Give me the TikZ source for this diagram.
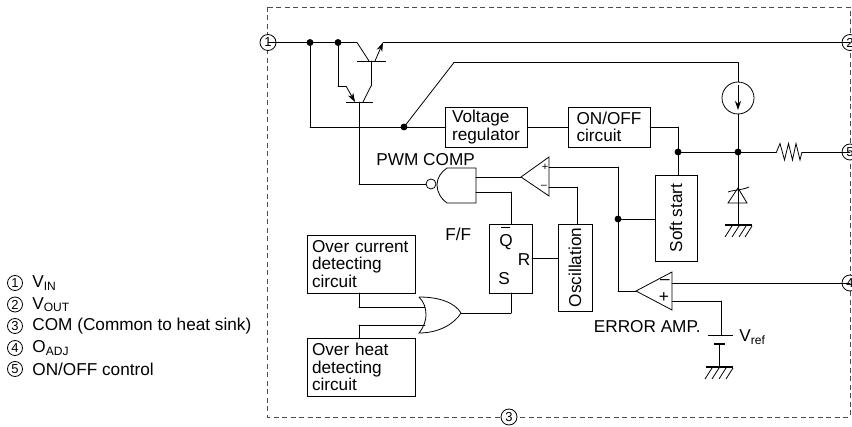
\documentclass[tikz,border=0pt]{standalone}
\usepackage{fontspec}
\setmainfont{Liberation Sans}
\usepackage{tkz-euclide}
\usetikzlibrary{calc}
\usetikzlibrary{positioning}
\usetikzlibrary{arrows.meta}

\begin{document}
\begin{tikzpicture}[%
  x=1pt, y=-1pt,
  line width=0.8pt,
  >={Stealth[length=9pt,width=6pt]},
  block/.style={draw, align=left, inner sep=0pt, font=\fontsize{17.2}{17.5}\selectfont},
  lbl/.style={inner sep=0pt, font=\fontsize{17.2}{17.5}\selectfont},
  pin/.style={draw, circle, fill=white, inner sep=0pt, minimum size=16pt, font=\fontsize{13}{13}\selectfont},
  sign/.style={inner sep=0pt, font=\fontsize{11}{11}\selectfont},
]

  \useasboundingbox (0,0) rectangle (852,427);

  % package outline
  \draw[dashed, dash pattern=on 5pt off 3.5pt, black!70] (267,7) rectangle (850,417);

  \node[pin] (p1) at (268,42.5) {1};
  \node[pin] (p2) at (850,42.5) {2};
  \node[pin] (p3) at (509,417) {3};
  \node[pin] (p4) at (850,283) {4};
  \node[pin] (p5) at (850,152) {5};

  \node[block, minimum width=82pt, minimum height=40pt] (vreg) at (486,127) {Voltage\\regulator};
  \node[block, minimum width=82pt, minimum height=40pt] (onoff) at (609,127) {ON/OFF\\circuit};
  \node[block, minimum width=42pt, minimum height=86pt] (soft) at (676,218) {};
  \node[lbl, rotate=90] (softtxt) at (soft.center) {Soft start};
  \node[block, minimum width=34pt, minimum height=87pt] (osc) at (575,267.5) {};
  \node[lbl, rotate=90] (osctxt) at (osc.center) {Oscillation};
  \node[block, minimum width=43pt, minimum height=69pt] (ff) at (510.5,258.5) {};
  \node[block, minimum width=108pt, minimum height=58pt, text width=98pt] (ocd) at (361,264) {Over current\\detecting\\circuit};
  \node[block, minimum width=108pt, minimum height=58pt, text width=98pt] (ohd) at (361,367) {Over heat\\detecting\\circuit};

  \node[lbl] (qbar) at (506,242) {Q};
  \node[lbl] (rr) at (524,260) {R};
  \node[lbl] (ss) at (504,279) {S};
  \node[lbl, anchor=west] (pwm) at (376,160) {PWM COMP};
  \node[lbl, anchor=west] (flip) at (445,234) {F/F};
  \node[lbl, anchor=east] (eamp) at (701,327) {ERROR AMP.};
  \node[lbl, anchor=west] (vref) at (739,337) {V\textsubscript{ref}};
  \draw (501,227) -- (510,227);

  \tkzDefPoint(310,42.5){j1}
  \tkzDefPoint(338,42.5){j2}
  \tkzDefPoint(357,42.5){c1}
  \tkzDefPoint(369,61){b1}
  \tkzDefPoint(375,61){e1}
  \tkzDefPoint(383,42.5){e1t}
  \tkzDefPoint(371,61){b1b}
  \tkzDefPoint(371,86){b1c}
  \tkzDefPoint(363,102){b1d}
  \tkzDefPoint(338,86){e2a}
  \tkzDefPoint(346,86){e2b}
  \tkzDefPoint(355,102){e2c}
  \tkzDefPoint(359,102){b2}
  \tkzDefPoint(359,184){b2b}
  \tkzDefPoint(426,184){bub}
  \tkzDefPoint(310,127){j3}
  \tkzDefPoint(404,127){j4}
  \tkzDefPoint(454,62.5){d1}
  \tkzDefPoint(738,62.5){d2}
  \tkzDefPoint(738,82){cs1}
  \tkzDefPoint(738,114){cs2}
  \tkzDefPoint(738,152){j5}
  \tkzDefPoint(678,127){s1}
  \tkzDefPoint(678,152){j6}
  \tkzDefPoint(678,175){s2}
  \tkzDefPoint(776.5,152){r1}
  \tkzDefPoint(802,152){r2}
  \tkzDefPoint(738,225){g1}
  \tkzDefPoint(618,167){t1}
  \tkzDefPoint(549,167){t2}
  \tkzDefPoint(618,219){j7}
  \tkzDefPoint(655,219){s3}
  \tkzDefPoint(618,291){t3}
  \tkzDefPoint(636,291){t4}
  \tkzDefPoint(549,187){m1}
  \tkzDefPoint(577,187){m2}
  \tkzDefPoint(577,224){m3}
  \tkzDefPoint(476,177){n1}
  \tkzDefPoint(521,177){n2}
  \tkzDefPoint(476,192){n3}
  \tkzDefPoint(511,192){n4}
  \tkzDefPoint(511,224){n5}
  \tkzDefPoint(532,258){q1}
  \tkzDefPoint(558,258){q2}
  \tkzDefPoint(511,293){u1}
  \tkzDefPoint(511,313){u2}
  \tkzDefPoint(461,313){u3}
  \tkzDefPoint(359,293){o1}
  \tkzDefPoint(359,307){o2}
  \tkzDefPoint(425,307){o3}
  \tkzDefPoint(359,338){o4}
  \tkzDefPoint(359,325){o5}
  \tkzDefPoint(425,325){o6}
  \tkzDefPoint(672,283){a1}
  \tkzDefPoint(672,301){a2}
  \tkzDefPoint(721,301){a3}
  \tkzDefPoint(721,335){a4}
  \tkzDefPoint(719,344){a5}
  \tkzDefPoint(719,367){g2}

  % wires
  \tkzDrawSegments[line width=0.8pt](p1,c1 c1,b1 e1t,p2 b1b,b1c b1c,b1d j2,e2a e2a,e2b b2,b2b b2b,bub)
  \tkzDrawSegments[line width=0.8pt](j1,j3 j3,vreg.west j4,d1 d1,d2 d2,cs1 cs2,g1 vreg.east,onoff.west onoff.east,s1 s1,s2)
  \tkzDrawSegments[line width=0.8pt](j6,r1 r2,p5 t2,t1 t1,t3 t3,t4 j7,s3 m1,m2 m2,m3 n1,n2 n3,n4 n4,n5)
  \tkzDrawSegments[line width=0.8pt](q1,q2 u1,u2 u2,u3 o1,o2 o2,o3 o4,o5 o5,o6 a1,p4 a2,a3 a3,a4 a5,g2)
  \path[->] (e1) edge (e1t);
  \path[->] (e2b) edge (e2c);

  % transistors
  \draw (357,61) -- (386,61);
  \draw (346,102) -- (373,102);

  % current source
  \draw (738,98) circle (16);
  \path[->, line width=1pt] (738,85) edge (738,110);

  % resistor
  \draw (r1) -- (780,143.5) -- (784.5,160) -- (788.5,143.5) -- (792.5,160) -- (796,143.5) -- (800,160) -- (r2);

  % zener
  \draw (738,188) -- (728,203) -- (747,203) -- cycle;
  \draw (728,192) .. controls (733,190) and (743,190) .. (749,187);

  % grounds
  \draw[line width=2pt] (725,225) -- (752,225);
  \draw (732,226) -- ++(-7,11) (739,226) -- ++(-7,11) (746,226) -- ++(-7,11) (752,226) -- ++(-7,11);
  \draw[line width=2pt] (706,367) -- (733,367);
  \draw (712,368) -- ++(-7,11) (719,368) -- ++(-7,11) (726,368) -- ++(-7,11) (733,368) -- ++(-7,11);

  % battery
  \draw (708,335) -- (733,335);
  \draw[line width=2pt] (714,344) -- (725,344);

  % comparator and amplifier
  \draw (521,177) -- (549,157) -- (549,196) -- cycle;
  \draw (636,291) -- (672,272) -- (672,310) -- cycle;
  \node[sign] (cplus) at (545,167) {+};
  \node[sign] (cminus) at (544,187) {--};
  \node[lbl] (aminus) at (665,282) {--};
  \node[lbl] (aplus) at (664,298) {+};

  % gates
  \draw (476,168) -- (447,168) .. controls (441,172) and (437,178) .. (437,185)
    .. controls (437,192) and (441,199) .. (447,203) -- (476,203) -- cycle;
  \draw (431,184) circle (5);
  \draw (419,297) .. controls (440,297) and (455,303) .. (461,313)
    .. controls (455,323) and (440,333) .. (419,333)
    .. controls (424,327) and (426,320) .. (426,315)
    .. controls (426,308) and (424,302) .. (419,297);

  \tkzSetUpPoint[fill=black, size=6pt]
  \tkzDrawPoints(j1,j2,j4,j5,j6,j7)

  % legend
  \node[pin, minimum size=15pt] (k1) at (15,283) {1};
  \node[pin, minimum size=15pt] (k2) at (15,304.5) {2};
  \node[pin, minimum size=15pt] (k3) at (15,326) {3};
  \node[pin, minimum size=15pt] (k4) at (15,348) {4};
  \node[pin, minimum size=15pt] (k5) at (15,369) {5};
  \node[lbl, anchor=west] (t1x) at (32,283) {V\textsubscript{IN}};
  \node[lbl, anchor=west] (t2x) at (32,304.5) {V\textsubscript{OUT}};
  \node[lbl, anchor=west] (t3x) at (32,326) {COM (Common to heat sink)};
  \node[lbl, anchor=west] (t4x) at (32,348) {O\textsubscript{ADJ}};
  \node[lbl, anchor=west] (t5x) at (32,369) {ON/OFF control};

\end{tikzpicture}
\end{document}
